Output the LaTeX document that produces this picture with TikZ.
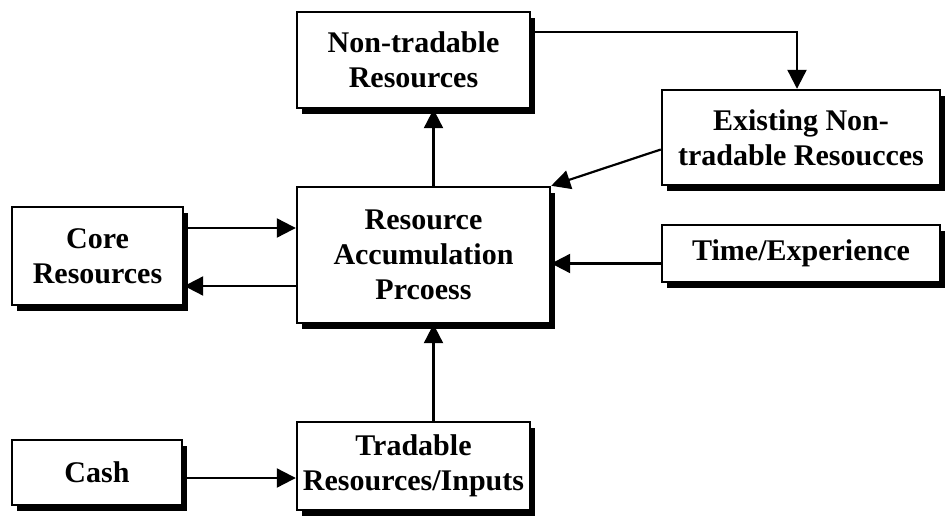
\documentclass[tikz,border=0pt]{standalone}
\usepackage{fontspec}
\setmainfont{Liberation Serif}
\usetikzlibrary{arrows.meta,shadows}
\begin{document}
\begin{tikzpicture}[x=1pt,y=-1pt,
  box/.style={draw=black, line width=2.4pt, fill=white, align=center,
    inner sep=0pt, font=\bfseries\fontsize{30}{35}\selectfont,
    drop shadow={shadow xshift=5pt, shadow yshift=-6pt, fill=black, opacity=1}},
  arr/.style={line width=2.2pt, -{Triangle[length=19pt,width=19pt]}}]
\useasboundingbox (0,0) rectangle (947,521);
% boxes
\node[box, minimum width=233pt, minimum height=96pt] (nt)   at (413.5,60)   {Non-tradable\\Resources};
\node[box, minimum width=278pt, minimum height=95pt] (ex)   at (801,137.5)  {Existing Non-\\tradable Resoucces};
\node[box, minimum width=278pt, minimum height=57pt] (te)   at (801,253.5)  {Time/Experience};
\node[box, minimum width=253pt, minimum height=136pt] (rap) at (423.5,255)  {Resource\\Accumulation\\Prcoess};
\node[box, minimum width=171pt, minimum height=98pt] (core) at (97.5,256)   {Core\\Resources};
\node[box, minimum width=170pt, minimum height=65pt] (cash) at (97,472.5)   {Cash};
\node[box, minimum width=233pt, minimum height=88pt] (tr)   at (413.5,466)  {Tradable\\Resources/Inputs};
% connectors
\draw[arr] ([yshift=28pt]nt.east) -| ([xshift=-4pt]ex.north);
\draw[arr] ([yshift=-12pt]ex.west) -- (rap.north east);
\draw[arr] ([xshift=10pt]rap.north) -- ([xshift=10pt]rap.north |- nt.south);
\draw[arr] ([yshift=28pt]core.east) -- ([yshift=28pt]core.east -| rap.west);
\draw[arr] ([yshift=-31pt]rap.west) -- ([yshift=-31pt]rap.west -| core.east);
\draw[arr] ([yshift=-10pt]te.west) -- ([yshift=-10pt]te.west -| rap.east);
\draw[arr] ([xshift=20pt]tr.north) -- ([xshift=20pt]tr.north |- rap.south);
\draw[arr] ([yshift=-5.5pt]cash.east) -- ([yshift=-5.5pt]cash.east -| tr.west);
\end{tikzpicture}
\end{document}
